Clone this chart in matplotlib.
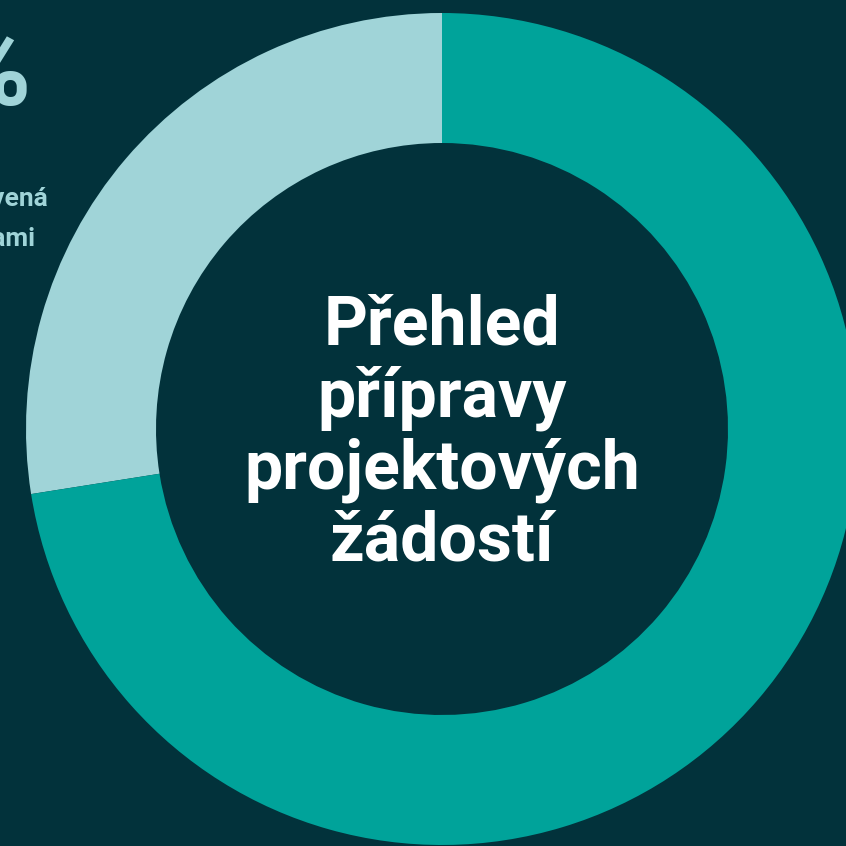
import matplotlib
matplotlib.use("Agg")
import matplotlib.pyplot as plt

# Data
labels = ["Připravená s partnery", "Ostatní"]
values = [27.5, 72.5]
colors = ["#a0d4d8", "#00a39a"]
share_text = "28 %"
share_label = ["Připravená", "partnery ami"]
title_lines = ["Přehled", "přípravy", "projektových", "žádostí"]

bg = "#02323b"
plt.rcParams['font.family'] = ['Roboto', 'DejaVu Sans']

W = 846
fig = plt.figure(figsize=(8.46, 8.46), dpi=100, facecolor=bg)
ax = fig.add_axes([0, 0, 1, 1])
ax.set_facecolor(bg)

cx, cy = 442, W - 429
R = 416
ax.pie(values, colors=colors, startangle=90, counterclock=True,
       center=(cx, cy), radius=R,
       wedgeprops=dict(width=130, linewidth=0))

ax.set_xlim(0, W)
ax.set_ylim(0, W)
ax.set_aspect('equal')
ax.axis('off')

# centre title
ax.text(cx, W - 434, "\n".join(title_lines), ha='center', va='center',
        color='white', fontsize=49, fontweight='bold', linespacing=1.13)

# label of the light slice (cut off at the left edge, as in the original)
ax.text(31, W - 105, share_text, ha='right', va='baseline',
        color=colors[0], fontsize=76, fontweight='bold')
ax.text(48, W - 206, share_label[0], ha='right', va='baseline',
        color=colors[0], fontsize=19, fontweight='bold')
ax.text(35, W - 246, share_label[1], ha='right', va='baseline',
        color=colors[0], fontsize=19, fontweight='bold')

fig.savefig("out.png", dpi=100, facecolor=bg)
